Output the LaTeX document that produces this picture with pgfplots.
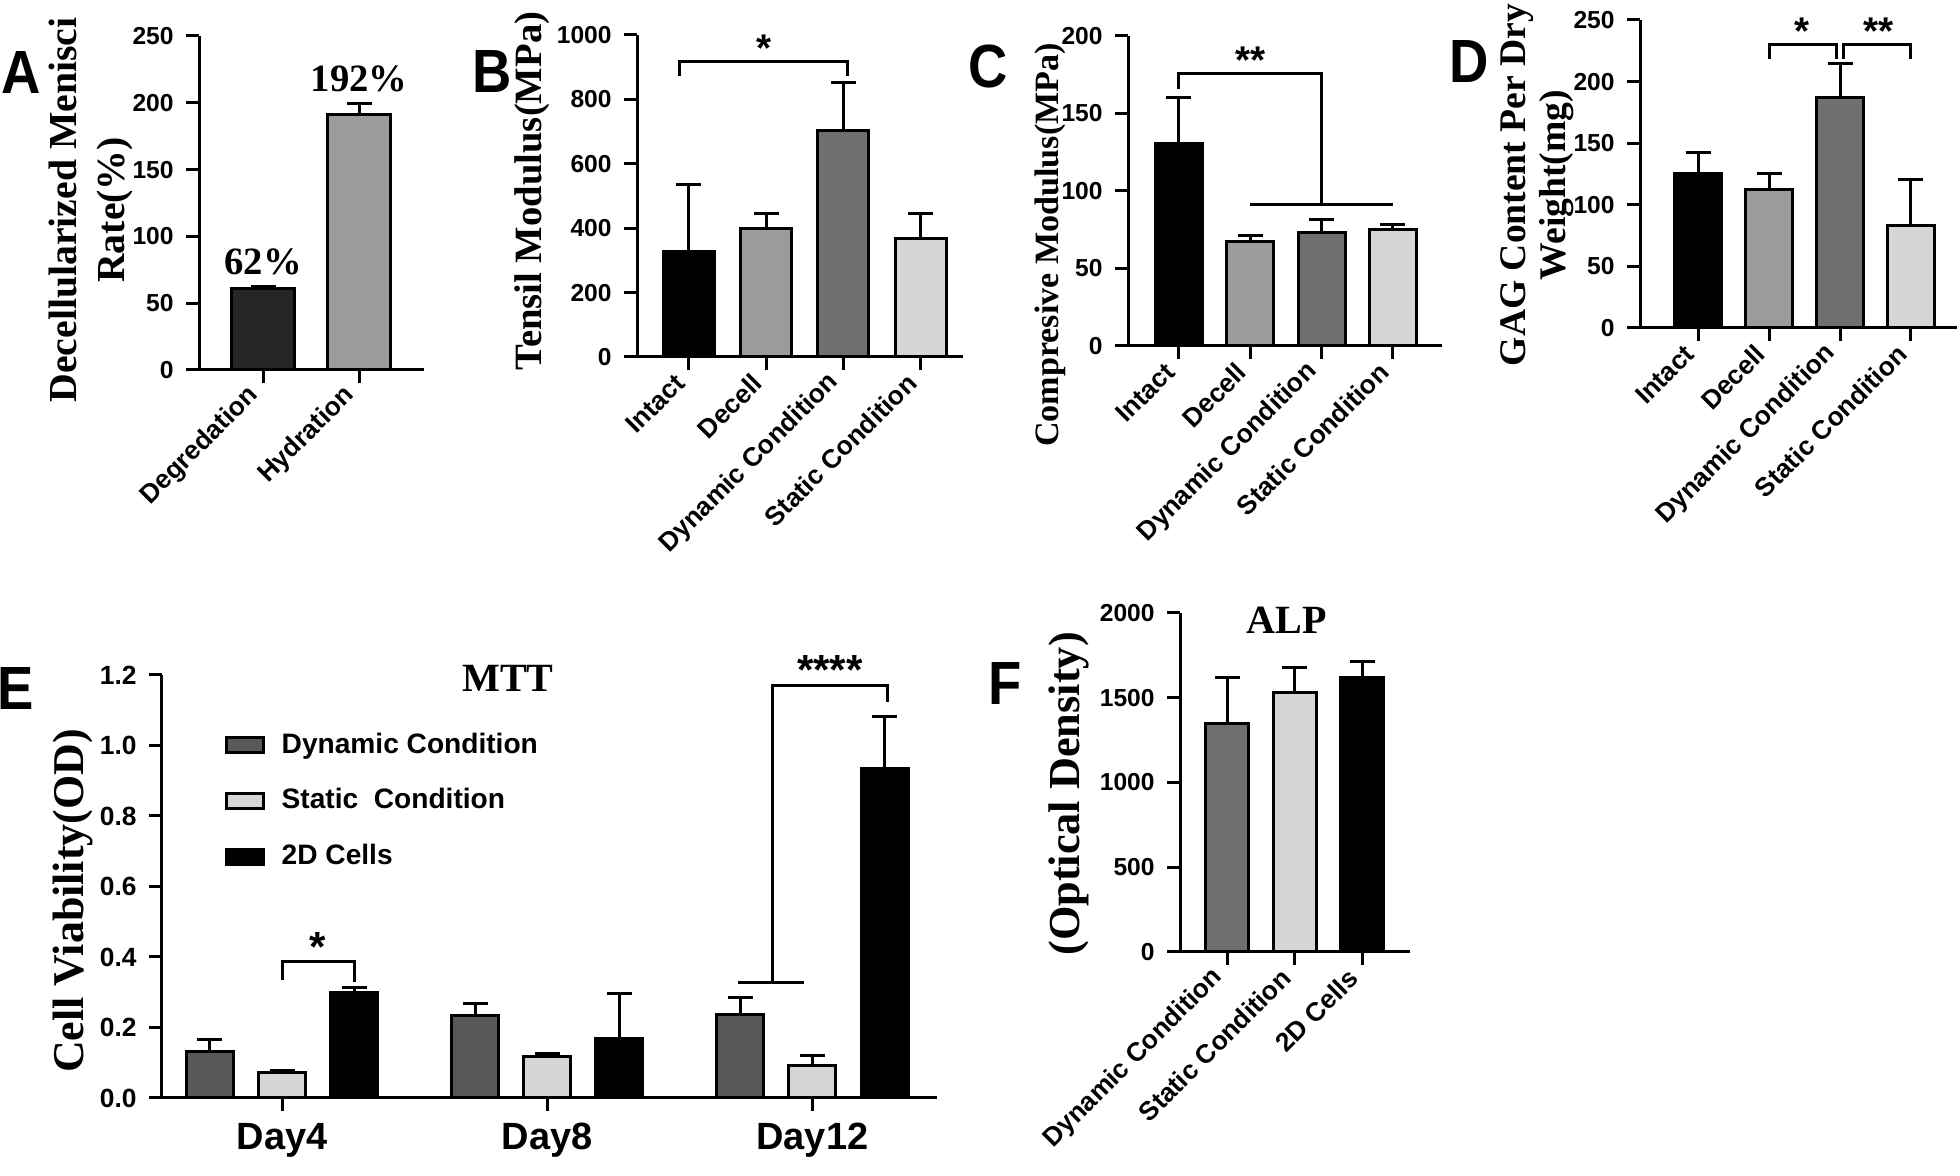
\documentclass[border=0pt]{standalone}
\usepackage{graphicx}
\usepackage{pgfplots}
\pgfplotsset{compat=1.18}
\usepackage{fontspec}
\setmainfont{Liberation Sans}
\newfontfamily\tnr{Liberation Serif}

\definecolor{cdeg}{HTML}{262626}
\definecolor{cmid}{HTML}{9B9B9B}
\definecolor{cdyn}{HTML}{6F6F6F}
\definecolor{cdynE}{HTML}{585858}
\definecolor{cstat}{HTML}{D6D6D6}

\newcommand{\panl}[1]{\scalebox{1}[1.12]{\bfseries\fontsize{15.5}{18}\selectfont #1}}

\tikzset{brk/.style={line width=0.3mm, black}}

\pgfplotsset{
  panel/.style={
    scale only axis,
    anchor=south west,
    axis lines=left,
    axis line style={-, line width=0.3mm},
    tick align=outside,
    major tick length=1.3mm,
    tick style={line width=0.3mm, black},
    ymin=0,
    clip=false,
    tick label style={font=\bfseries\fontsize{7}{8}\selectfont},
    /pgf/number format/assume math mode=true,
    /pgf/number format/1000 sep={},
  },
  rot/.style={xticklabel style={rotate=45, anchor=east, font=\bfseries\fontsize{7.5}{9}\selectfont}},
  gbar/.style={ybar, bar shift=0pt, draw=black, line width=0.3mm, fill=#1,
    error bars/y dir=plus, error bars/y explicit,
    error bars/error bar style={line width=0.3mm, black},
    error bars/error mark options={rotate=90, line width=0.3mm, mark size=1.25mm, black}},
}

\begin{document}
\begin{tikzpicture}
\path[use as bounding box] (0,0) rectangle (196mm,117.6mm);

% ---------- A ----------
\begin{axis}[panel, rot, at={(19.9mm,80.6mm)}, width=22.5mm, height=33.4mm,
  xmin=-0.667, xmax=1.677, ymax=250, ytick={0,50,...,250},
  xtick={0,1}, xticklabels={Degredation,Hydration}]
\addplot[gbar=cdeg, bar width=6.3mm] coordinates {(0,61) +- (0,1.5)};
\addplot[gbar=cmid, bar width=6.3mm] coordinates {(1,191.5) +- (0,8)};
\node[font=\tnr\bfseries\fontsize{11}{13}\selectfont] at (axis cs:0,81) {62\%};
\node[font=\tnr\bfseries\fontsize{11}{13}\selectfont] at (axis cs:1,218) {192\%};
\end{axis}

% ---------- B ----------
\begin{axis}[panel, rot, at={(63.7mm,81.9mm)}, width=32.6mm, height=32.2mm,
  xmin=-0.67, xmax=3.55, ymax=1000, ytick={0,200,...,1000},
  xtick={0,1,2,3}, xticklabels={Intact,Decell,Dynamic Condition,Static Condition}]
\addplot[gbar=black, bar width=5.1mm] coordinates {(0,329) +- (0,207)};
\addplot[gbar=cmid, bar width=5.1mm] coordinates {(1,398) +- (0,47)};
\addplot[gbar=cdyn, bar width=5.1mm] coordinates {(2,703) +- (0,148)};
\addplot[gbar=cstat, bar width=5.1mm] coordinates {(3,368) +- (0,77)};
\draw[brk] (axis cs:-0.12,873) -- (axis cs:-0.12,917) -- (axis cs:2.05,917) -- (axis cs:2.05,873);
\node[font=\bfseries\fontsize{11}{13}\selectfont, anchor=base, inner sep=0pt] at (axis cs:0.97,918) {*};
\end{axis}

% ---------- C ----------
\begin{axis}[panel, rot, at={(112.8mm,83.0mm)}, width=31.4mm, height=31.0mm,
  xmin=-0.715, xmax=3.69, ymax=200, ytick={0,50,...,200},
  xtick={0,1,2,3}, xticklabels={Intact,Decell,Dynamic Condition,Static Condition}]
\addplot[gbar=black, bar width=4.7mm] coordinates {(0,130.4) +- (0,29.6)};
\addplot[gbar=cmid, bar width=4.7mm] coordinates {(1,67.3) +- (0,3.7)};
\addplot[gbar=cdyn, bar width=4.7mm] coordinates {(2,73.3) +- (0,8.5)};
\addplot[gbar=cstat, bar width=4.7mm] coordinates {(3,75.1) +- (0,3.5)};
\draw[brk] (axis cs:0,165.8) -- (axis cs:0,175.5) -- (axis cs:2,175.5) -- (axis cs:2,91);
\draw[brk] (axis cs:1,91) -- (axis cs:3,91);
\node[font=\bfseries\fontsize{11}{13}\selectfont, anchor=base, inner sep=0pt] at (axis cs:1,176) {**};
\end{axis}

% ---------- D ----------
\begin{axis}[panel, rot, at={(164.0mm,84.8mm)}, width=31.7mm, height=30.8mm,
  xmin=-0.82, xmax=3.65, ymax=250, ytick={0,50,...,250},
  xtick={0,1,2,3}, xticklabels={Intact,Decell,Dynamic Condition,Static Condition}]
\addplot[gbar=black, bar width=4.7mm] coordinates {(0,125.1) +- (0,17.2)};
\addplot[gbar=cmid, bar width=4.7mm] coordinates {(1,112.7) +- (0,12.4)};
\addplot[gbar=cdyn, bar width=4.7mm] coordinates {(2,186.7) +- (0,28.2)};
\addplot[gbar=cstat, bar width=4.7mm] coordinates {(3,82.8) +- (0,38.0)};
\draw[brk] (axis cs:1,218.3) -- (axis cs:1,229.7) -- (axis cs:1.95,229.7) -- (axis cs:1.95,218.3);
\draw[brk] (axis cs:2.05,218.3) -- (axis cs:2.05,229.7) -- (axis cs:3,229.7) -- (axis cs:3,218.3);
\node[font=\bfseries\fontsize{11}{13}\selectfont, anchor=base, inner sep=0pt] at (axis cs:1.46,230) {*};
\node[font=\bfseries\fontsize{11}{13}\selectfont, anchor=base, inner sep=0pt] at (axis cs:2.54,230) {**};
\end{axis}

% ---------- E ----------
\begin{axis}[panel, at={(16.2mm,7.8mm)}, width=77.5mm, height=42.3mm,
  xmin=-0.453, xmax=2.47, ymax=1.2, ytick={0,0.2,...,1.2},
  yticklabel style={/pgf/number format/.cd, fixed, fixed zerofill, precision=1},
  tick label style={font=\bfseries\fontsize{7.5}{9}\selectfont},
  xtick={0,1,2}, xticklabels={Day4,Day8,Day12},
  xticklabel style={font=\bfseries\fontsize{10.8}{12}\selectfont},
  legend style={at={(0.08,0.882)}, anchor=north west, draw=none, fill=none,
    font=\bfseries\fontsize{8}{9.6}\selectfont, row sep=1.6mm, inner sep=0pt,
    /tikz/every odd column/.append style={column sep=1mm}},
  legend cell align=left,
  legend image code/.code={\draw[#1, line width=0.3mm] (0mm,-0.75mm) rectangle (3.7mm,0.75mm);}]
\addplot[gbar=cdynE, bar width=4.7mm] coordinates {(-0.272,0.1325) +- (0,0.0325) (0.728,0.2327) +- (0,0.035) (1.728,0.238) +- (0,0.046)};
\addlegendentry{Dynamic Condition}
\addplot[gbar=cstat, bar width=4.7mm] coordinates {(0,0.071) +- (0,0.007) (1,0.117) +- (0,0.010) (2,0.092) +- (0,0.028)};
\addlegendentry{Static\ \ Condition}
\addplot[gbar=black, bar width=4.7mm] coordinates {(0.272,0.2995) +- (0,0.0135) (1.272,0.169) +- (0,0.126) (2.272,0.934) +- (0,0.148)};
\addlegendentry{2D Cells}
\draw[brk] (axis cs:0,0.334) -- (axis cs:0,0.386) -- (axis cs:0.272,0.386) -- (axis cs:0.272,0.329);
\node[font=\bfseries\fontsize{12}{14}\selectfont, anchor=base, inner sep=0pt] at (axis cs:0.136,0.388) {*};
\draw[brk] (axis cs:1.72,0.329) -- (axis cs:1.97,0.329);
\draw[brk] (axis cs:1.849,0.329) -- (axis cs:1.849,1.171) -- (axis cs:2.283,1.171) -- (axis cs:2.283,1.122);
\node[font=\bfseries\fontsize{12}{14}\selectfont, anchor=base, inner sep=0pt] at (axis cs:2.066,1.173) {****};
\end{axis}

% ---------- F ----------
\begin{axis}[panel, rot, at={(118.0mm,22.4mm)}, width=23.0mm, height=33.9mm,
  xmin=-0.70, xmax=2.71, ymax=2000, ytick={0,500,...,2000},
  xtick={0,1,2}, xticklabels={Dynamic Condition,Static Condition,2D Cells}]
\addplot[gbar=cdyn, bar width=4.3mm] coordinates {(0,1350) +- (0,270)};
\addplot[gbar=cstat, bar width=4.3mm] coordinates {(1,1528) +- (0,153)};
\addplot[gbar=black, bar width=4.3mm] coordinates {(2,1618) +- (0,94)};
\end{axis}

% ---------- labels ----------
\node at (2.1mm,110.3mm) {\panl{A}};
\node at (49.2mm,110.4mm) {\panl{B}};
\node at (98.8mm,110.9mm) {\panl{C}};
\node at (146.9mm,111.4mm) {\panl{D}};
\node at (1.6mm,48.7mm) {\panl{E}};
\node at (100.5mm,49.2mm) {\panl{F}};

\node[font=\tnr\bfseries\fontsize{11.3}{13.6}\selectfont, rotate=90, align=center] at (9.1mm,96.6mm) {Decellularized Menisci\\Rate(\%)};
\node[font=\tnr\bfseries\fontsize{11}{13}\selectfont, rotate=90] at (53.2mm,98.5mm) {Tensil Modulus(MPa)};
\node[font=\tnr\bfseries\fontsize{9.7}{12}\selectfont, rotate=90] at (105.0mm,93.1mm) {Compresive Modulus(MPa)};
\node[font=\tnr\bfseries\fontsize{10.7}{11.4}\selectfont, rotate=90, align=center] at (153.7mm,99.1mm) {GAG Content Per Dry\\Weight(mg)};
\node[font=\tnr\bfseries\fontsize{12.5}{14}\selectfont, rotate=90] at (7.3mm,27.5mm) {Cell Viability(OD)};
\node[font=\tnr\bfseries\fontsize{12.6}{14}\selectfont, rotate=90] at (106.9mm,38.2mm) {(Optical Density)};

\node[font=\tnr\bfseries\fontsize{11.4}{13}\selectfont] at (50.8mm,49.8mm) {MTT};
\node[font=\tnr\bfseries\fontsize{11.4}{13}\selectfont] at (128.7mm,55.6mm) {ALP};
\end{tikzpicture}
\end{document}
